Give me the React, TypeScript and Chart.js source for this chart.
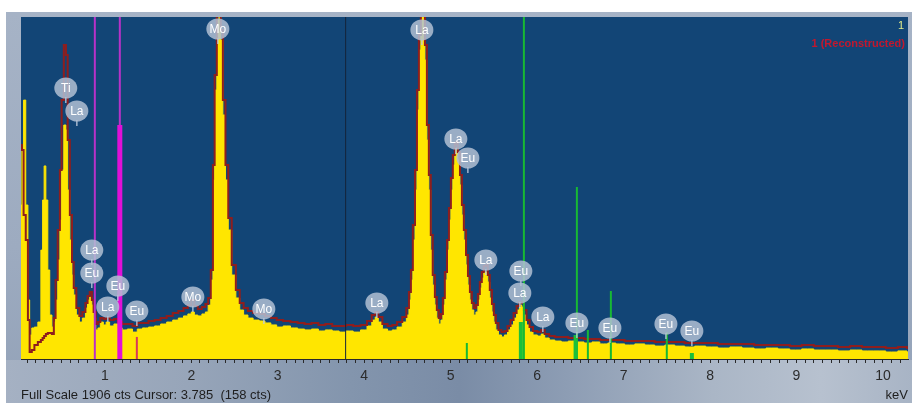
import React, { useEffect, useRef } from 'react';
import { Chart, registerables } from 'chart.js';

Chart.register(...registerables);

// ---- spectrum data (keV, counts) ----
const energies = [
  0.03, 0.05, 0.07, 0.10, 0.12, 0.14, 0.17, 0.20, 0.25, 0.27, 0.29, 0.305, 0.33, 0.35, 0.375, 0.40,
  0.42, 0.44, 0.47, 0.49, 0.51, 0.54, 0.56, 0.58, 0.61, 0.63, 0.65, 0.69, 0.72, 0.76, 0.79, 0.81,
  0.84, 0.86, 0.88, 0.91, 0.93, 0.965, 1.00, 1.03, 1.08, 1.13, 1.17, 1.23, 1.29, 1.35, 1.40, 1.47,
  1.54, 1.61, 1.68, 1.75, 1.82, 1.88, 1.94, 1.98, 2.02, 2.05, 2.10, 2.145, 2.18, 2.21, 2.24, 2.26,
  2.28, 2.31, 2.33, 2.35, 2.38, 2.41, 2.445, 2.49, 2.54, 2.58, 2.63, 2.68, 2.75, 2.82, 2.885, 2.955,
  3.02, 3.105, 3.19, 3.27, 3.35, 3.43, 3.51, 3.59, 3.67, 3.75, 3.83, 3.915, 4.00, 4.065, 4.11, 4.145,
  4.18, 4.24, 4.30, 4.35, 4.41, 4.47, 4.505, 4.53, 4.55, 4.575, 4.60, 4.62, 4.645, 4.665, 4.69, 4.715,
  4.735, 4.76, 4.78, 4.805, 4.83, 4.85, 4.875, 4.90, 4.92, 4.945, 4.97, 4.99, 5.015, 5.035, 5.06, 5.07,
  5.095, 5.12, 5.14, 5.165, 5.19, 5.21, 5.235, 5.255, 5.28, 5.305, 5.325, 5.35, 5.37, 5.395, 5.42, 5.44,
  5.465, 5.49, 5.51, 5.535, 5.57, 5.605, 5.64, 5.675, 5.71, 5.745, 5.78, 5.81, 5.835, 5.86, 5.895, 5.93,
  5.975, 6.03, 6.065, 6.11, 6.17, 6.24, 6.32, 6.40, 6.495, 6.59, 6.68, 6.77, 6.865, 6.955, 7.07, 7.19,
  7.30, 7.42, 7.535, 7.65, 7.765, 7.88, 8.02, 8.16, 8.30, 8.44, 8.58, 8.715, 8.855, 8.99, 9.13, 9.27,
  9.41, 9.55, 9.69, 9.825, 9.965, 10.10, 10.245, 10.31,
];

const measured = [
  858, 1165, 1443, 858, 329, 134, 173, 178, 206, 607, 886, 1076, 886, 496, 245, 178,
  206, 329, 552, 775, 1053, 1304, 1276, 942, 663, 468, 357, 245, 206, 228, 284, 329,
  346, 301, 228, 162, 173, 206, 190, 206, 184, 195, 173, 162, 167, 150, 167, 173,
  178, 184, 195, 206, 217, 228, 240, 251, 262, 245, 240, 251, 262, 301, 440, 998,
  1499, 1889, 2150, 1778, 1360, 998, 719, 468, 340, 273, 245, 228, 217, 212, 201, 190,
  178, 184, 173, 167, 162, 167, 156, 162, 156, 150, 156, 150, 162, 184, 217, 234,
  206, 167, 156, 162, 178, 206, 245, 329, 440, 663, 942, 1388, 1722, 2250, 2200, 1666,
  1220, 942, 607, 412, 301, 228, 195, 217, 301, 440, 607, 775, 942, 1081, 1165, 1176,
  1109, 970, 803, 663, 524, 412, 329, 273, 245, 262, 329, 396, 451, 485, 485, 429,
  340, 262, 206, 162, 134, 123, 134, 162, 190, 228, 273, 301, 290, 245, 190, 150,
  134, 128, 139, 117, 106, 100, 95, 100, 95, 89, 95, 84, 89, 84, 78, 84,
  78, 72, 78, 72, 67, 72, 67, 61, 67, 61, 56, 61, 56, 50, 56, 50,
  50, 45, 50, 45, 45, 39, 45, 39,
];

const reconstructed = [
  1193, 1165, 802, 663, 217, 39, 50, 78, 95, 106, 117, 128, 139, 145, 145, 139,
  228, 440, 719, 1053, 1443, 1750, 1694, 1220, 802, 541, 396, 284, 240, 262, 312, 351,
  373, 329, 262, 195, 206, 228, 223, 228, 217, 223, 206, 195, 195, 184, 201, 201,
  212, 217, 228, 240, 256, 268, 284, 301, 329, 295, 279, 290, 307, 340, 496, 1081,
  1583, 1917, 2200, 1834, 1443, 1081, 786, 524, 385, 312, 284, 268, 256, 251, 240, 228,
  217, 212, 206, 201, 195, 201, 190, 195, 184, 184, 190, 184, 190, 212, 245, 262,
  234, 195, 184, 190, 206, 234, 284, 373, 496, 747, 1053, 1499, 1806, 2300, 2250, 1750,
  1304, 1025, 691, 468, 346, 273, 228, 251, 340, 485, 663, 842, 1009, 1137, 1198, 1209,
  1154, 1025, 858, 719, 580, 463, 373, 312, 284, 301, 362, 429, 485, 518, 524, 468,
  385, 307, 245, 201, 162, 150, 156, 184, 217, 256, 295, 318, 312, 273, 217, 178,
  156, 150, 162, 139, 128, 123, 123, 117, 117, 111, 111, 106, 106, 106, 100, 100,
  100, 95, 95, 95, 89, 89, 89, 84, 84, 84, 78, 78, 78, 72, 78, 72,
  72, 67, 72, 67, 67, 61, 67, 61,
];

// ---- axis ----
const fullScale = 1906;
const xMin = 0.03;
const xMax = 10.29;
const xStep = 0.1;

// ---- line markers ----
const greenThinEnergies = [5.847, 6.46, 6.853, 7.5, 5.187, 6.587];
const greenThinHeights = [2100, 959, 379, 150, 89, 162];
const greenThickEnergies = [5.812, 6.445, 7.79];
const greenThickHeights = [206, 134, 33];
const magentaThinEnergies = [0.884, 1.173];
const magentaThinHeights = [2100, 2100];
const magentaThickEnergies = [1.173];
const magentaThickHeights = [1304];
const redTickEnergies = [1.37];
const redTickHeights = [123];
const cursorEnergies = [3.785];
const cursorHeights = [2100];

// ---- element labels ----
const labelNames = ['Ti', 'La', 'Mo', 'La', 'Eu', 'Eu', 'La', 'Eu', 'Mo', 'Mo', 'La', 'La', 'La', 'Eu', 'La', 'Eu', 'La', 'La', 'Eu', 'Eu', 'Eu', 'Eu'];
const labelEnergies = [0.548, 0.676, 2.307, 0.849, 0.849, 1.15, 1.034, 1.37, 2.018, 2.839, 4.146, 4.667, 5.06, 5.199, 5.407, 5.812, 5.8, 6.066, 6.46, 6.842, 7.49, 7.79];
const labelCounts = [1510, 1382, 1839, 607, 479, 407, 290, 267, 346, 279, 312, 1834, 1226, 1120, 552, 490, 368, 234, 201, 173, 195, 156];

const statusText = 'Full Scale 1906 cts Cursor: 3.785  (158 cts)';
const unitText = 'keV';
const seriesTitle = '1';
const seriesLegend = '1 (Reconstructed)';

const FONT = '"Liberation Sans", Arial, sans-serif';

function vlines(es: number[], hs: number[]) {
  const out: any[] = [];
  es.forEach((e, i) => {
    out.push({ x: e, y: 0 }, { x: e, y: hs[i] }, { x: e, y: null });
  });
  return out;
}

function markerSet(data: any[], color: string, width: number, order: number) {
  return {
    type: 'line' as const,
    data,
    borderColor: color,
    borderWidth: width,
    pointRadius: 0,
    fill: false,
    spanGaps: false,
    tension: 0,
    order,
  };
}

const bgPlugin = {
  id: 'plotBg',
  beforeDraw(chart: any) {
    const { ctx, chartArea: a } = chart;
    ctx.save();
    ctx.fillStyle = '#124576';
    ctx.fillRect(a.left, a.top, a.right - a.left, a.bottom - a.top);
    ctx.restore();
  },
};

const labelPlugin = {
  id: 'elemLabels',
  afterDatasetsDraw(chart: any) {
    const { ctx } = chart;
    const xs = chart.scales.x;
    const ys = chart.scales.y;
    ctx.save();
    labelNames.forEach((name, i) => {
      const px = xs.getPixelForValue(labelEnergies[i]);
      const py = ys.getPixelForValue(labelCounts[i]);
      ctx.strokeStyle = 'rgba(190,202,220,0.85)';
      ctx.lineWidth = 1.5;
      ctx.beginPath();
      ctx.moveTo(px, py + 9);
      ctx.lineTo(px, py + 15);
      ctx.stroke();
      ctx.fillStyle = 'rgba(178,192,212,0.85)';
      ctx.beginPath();
      ctx.ellipse(px, py, 11.5, 10.5, 0, 0, Math.PI * 2);
      ctx.fill();
      ctx.fillStyle = '#ffffff';
      ctx.font = '12px ' + FONT;
      ctx.textAlign = 'center';
      ctx.textBaseline = 'middle';
      ctx.fillText(name, px, py + 1);
    });
    ctx.restore();
  },
};

const textPlugin = {
  id: 'frameText',
  afterDraw(chart: any) {
    const { ctx, chartArea: a } = chart;
    ctx.save();
    ctx.fillStyle = '#1e1e1e';
    ctx.font = '13px ' + FONT;
    ctx.textBaseline = 'alphabetic';
    ctx.textAlign = 'left';
    ctx.fillText(statusText, 21, 399);
    ctx.textAlign = 'right';
    ctx.fillText(unitText, a.right, 399);
    ctx.fillStyle = '#e2ec8a';
    ctx.font = '11px ' + FONT;
    ctx.fillText(seriesTitle, a.right - 4, 29);
    ctx.fillStyle = '#c2182e';
    ctx.font = 'bold 11px ' + FONT;
    ctx.fillText(seriesLegend, a.right - 3, 47);
    ctx.restore();
  },
};

export default function App() {
  const ref = useRef<HTMLCanvasElement | null>(null);

  useEffect(() => {
    if (!ref.current) return;
    const measuredPts = energies.map((e, i) => ({ x: e, y: measured[i] }));
    const reconPts = energies.map((e, i) => ({ x: e, y: reconstructed[i] }));

    const chart = new Chart(ref.current, {
      type: 'line',
      data: {
        datasets: [
          markerSet(vlines(magentaThickEnergies, magentaThickHeights), '#e010d8', 5, 1),
          markerSet(vlines(magentaThinEnergies, magentaThinHeights), '#b832c8', 2, 2),
          markerSet(vlines(greenThickEnergies, greenThickHeights), '#1cc03a', 4, 3),
          markerSet(vlines(greenThinEnergies, greenThinHeights), '#18b834', 2, 4),
          markerSet(vlines(redTickEnergies, redTickHeights), '#d8385a', 2, 5),
          markerSet(vlines(cursorEnergies, cursorHeights), '#14243a', 1, 6),
          {
            type: 'line',
            data: reconPts,
            borderColor: '#8e1e1e',
            borderWidth: 2,
            pointRadius: 0,
            fill: false,
            stepped: 'middle',
            order: 9,
          },
          {
            type: 'line',
            data: measuredPts,
            borderColor: '#ffe600',
            backgroundColor: '#ffe600',
            borderWidth: 1,
            pointRadius: 0,
            fill: 'origin',
            stepped: 'middle',
            order: 10,
          },
        ] as any,
      },
      options: {
        animation: false,
        responsive: false,
        maintainAspectRatio: false,
        parsing: true,
        layout: { padding: { left: 21, right: 4, top: 17, bottom: 0 } },
        plugins: { legend: { display: false }, tooltip: { enabled: false } },
        scales: {
          x: {
            type: 'linear',
            min: xMin,
            max: xMax,
            border: { display: true, color: '#2a2a2a', width: 1 },
            grid: { display: true, drawOnChartArea: false, drawTicks: true, tickLength: 4, color: '#2a2a2a' },
            ticks: {
              stepSize: xStep,
              autoSkip: false,
              includeBounds: false,
              maxRotation: 0,
              minRotation: 0,
              padding: 5,
              color: '#2b2b2b',
              font: { family: FONT, size: 14 },
              callback: (v: any) => {
                const n = Number(v);
                return Math.abs(n - Math.round(n)) < 1e-6 && n > 0.5 ? String(Math.round(n)) : '';
              },
            },
            afterFit: (s: any) => {
              s.height = 44;
            },
          },
          y: { display: false, min: 0, max: fullScale },
        },
      },
      plugins: [bgPlugin, labelPlugin, textPlugin],
    } as any);
    return () => chart.destroy();
  }, []);

  return (
    <div style={{ position: 'absolute', left: 0, top: 0, width: 912, height: 403, background: '#ffffff', overflow: 'hidden' }}>
      <div style={{ position: 'absolute', left: 6, top: 12, width: 906, height: 391, background: 'linear-gradient(180deg, #a6b3c6 0%, #9dabc0 60%, #93a2b8 100%)' }} />
      <div
        style={{
          position: 'absolute',
          left: 6,
          top: 360,
          width: 906,
          height: 43,
          background:
            'linear-gradient(90deg, #a5b1c3 0%, #97a5b9 20%, #8395ad 38%, #7a8ca6 50%, #8d9db4 62%, #aab6c6 78%, #b7c1cf 90%, #a8b4c5 100%)',
        }}
      />
      <canvas ref={ref} width={912} height={403} style={{ position: 'absolute', left: 0, top: 0, width: 912, height: 403 }} />
    </div>
  );
}
